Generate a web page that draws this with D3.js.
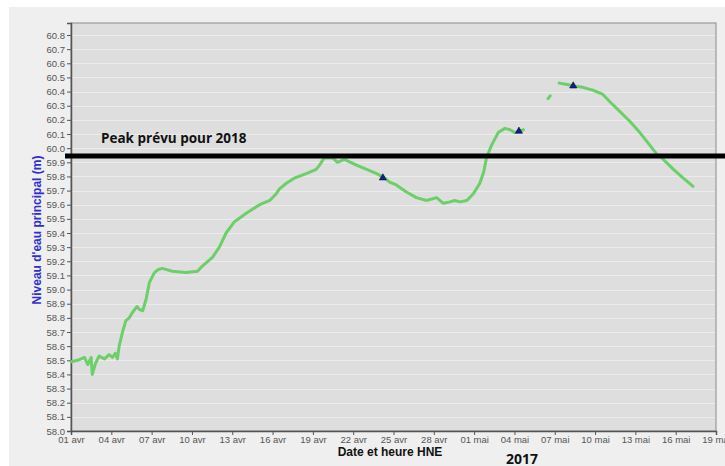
<!DOCTYPE html>
<html>
<head>
<meta charset="utf-8">
<script src="https://cdn.jsdelivr.net/npm/d3@7"></script>
<style>
  body { margin: 0; background: #fff; }
  svg { display: block; }
</style>
</head>
<body>
<div id="chart"></div>
<script>
// water level readings, 2017 (null = no data)
var times = [
  "04-01 00:00","04-01 12:00","04-02 00:00","04-02 06:00","04-02 12:00","04-02 14:00","04-02 20:00",
  "04-03 02:00","04-03 12:00","04-03 20:00","04-04 02:00","04-04 07:00","04-04 11:00","04-04 14:00",
  "04-04 20:00","04-05 02:00","04-05 08:00","04-05 14:00","04-05 22:00","04-06 02:00","04-06 08:00",
  "04-06 14:00","04-06 20:00","04-07 05:00","04-07 11:00","04-07 19:00","04-08 13:00","04-09 13:00",
  "04-10 10:00","04-10 17:00","04-11 13:00","04-12 01:00","04-12 13:00","04-13 04:00","04-14 01:00",
  "04-15 01:00","04-15 19:00","04-16 07:00","04-16 12:00","04-17 00:00","04-17 16:00","04-18 12:00",
  "04-19 06:00","04-19 12:00","04-19 20:00","04-20 12:00","04-20 20:00","04-21 08:00","04-22 06:00",
  "04-23 00:00","04-23 18:00","04-24 08:00","04-24 17:00","04-25 05:00","04-25 23:00","04-26 17:00",
  "04-27 11:00","04-28 05:00","04-28 17:00","04-29 05:00","04-29 13:00","04-29 23:00","04-30 11:00",
  "04-30 23:00","05-01 10:00","05-01 17:00","05-01 22:00","05-02 07:00","05-02 19:00","05-03 07:00",
  "05-03 16:00","05-04 01:00","05-04 08:00","05-04 16:00",
  "05-05 12:00",
  "05-06 12:00","05-06 16:00",
  "05-07 00:00",
  "05-07 08:00","05-07 22:00","05-08 10:00","05-09 02:00","05-09 20:00","05-10 14:00","05-11 02:00",
  "05-11 20:00","05-12 14:00","05-13 08:00","05-14 02:00","05-14 14:00","05-15 02:00","05-15 20:00",
  "05-16 13:00","05-17 07:00"
];
var levels = [
  58.49,58.50,58.52,58.47,58.52,58.40,58.48,
  58.53,58.51,58.54,58.52,58.55,58.51,58.60,
  58.70,58.78,58.80,58.84,58.88,58.86,58.85,
  58.93,59.05,59.12,59.14,59.15,59.13,59.12,
  59.13,59.16,59.23,59.30,59.40,59.48,59.54,
  59.60,59.63,59.68,59.71,59.75,59.79,59.82,
  59.85,59.88,59.93,59.93,59.90,59.92,59.88,
  59.85,59.82,59.79,59.76,59.74,59.69,59.65,
  59.63,59.65,59.61,59.62,59.63,59.62,59.63,
  59.68,59.75,59.83,59.93,60.02,60.11,60.14,
  60.13,60.11,60.12,60.13,
  null,
  60.35,60.37,
  null,
  60.46,60.45,60.44,60.43,60.41,60.38,60.33,
  60.26,60.19,60.11,60.02,59.96,59.92,59.85,
  59.79,59.73
];

// flagged readings (triangles)
var flagTimes = ["04-24 05:00", "05-04 08:00", "05-08 09:00"];
var flagLevels = [59.79, 60.12, 60.44];

var peakLevel = 59.945;
var peakLabel = "Peak prévu pour 2018";
var monthNames = ["janv","févr","mars","avr","mai","juin"];
var yTicks = d3.range(58.0, 60.81, 0.1).map(function(v) { return Math.round(v * 10) / 10; });

var width = 725, height = 466;
var margin = {top: 23, right: 9, bottom: 35, left: 71};
var parse = d3.timeParse("%Y-%m-%d %H:%M");

var svg = d3.select("#chart").append("svg")
    .attr("width", width)
    .attr("height", height);

// outer panel
svg.append("rect")
    .attr("x", 9).attr("y", 7)
    .attr("width", width - 9).attr("height", height - 7)
    .attr("fill", "#efefef");

var x = d3.scaleTime()
    .domain([parse("2017-04-01 00:00"), parse("2017-05-19 00:00")])
    .range([margin.left, width - margin.right]);

var y = d3.scaleLinear()
    .domain([58.0, 60.885])
    .range([height - margin.bottom, margin.top]);

// plot background
svg.append("rect")
    .attr("x", x.range()[0]).attr("y", y.range()[1])
    .attr("width", x.range()[1] - x.range()[0])
    .attr("height", y.range()[0] - y.range()[1])
    .attr("fill", "#dedede")
    .attr("stroke", "#8a8a8a")
    .attr("stroke-width", 1);

// grid
svg.append("g")
    .selectAll("line")
    .data(yTicks.slice(1))
    .enter().append("line")
      .attr("x1", x.range()[0] + 1)
      .attr("x2", x.range()[1] - 1)
      .attr("y1", function(d) { return Math.round(y(d)) + 0.5; })
      .attr("y2", function(d) { return Math.round(y(d)) + 0.5; })
      .attr("stroke", "#ececec")
      .attr("stroke-width", 1);

// x axis
var xTicks = d3.timeDay.range(parse("2017-04-01 00:00"), parse("2017-05-19 01:00"), 1)
    .filter(function(d, i) { return i % 3 === 0; });
svg.append("g")
    .attr("transform", "translate(0," + y.range()[0] + ")")
    .call(d3.axisBottom(x)
        .tickValues(xTicks)
        .tickSize(4)
        .tickPadding(1)
        .tickFormat(function(d) { return d3.timeFormat("%d")(d) + " " + monthNames[d.getMonth()]; }))
    .call(function(g) {
        g.select(".domain").attr("stroke", "#555").attr("stroke-width", 1.5);
        g.selectAll(".tick line").attr("stroke", "#555");
        g.selectAll(".tick text")
            .attr("fill", "#555")
            .attr("font-family", "Arial, 'Liberation Sans', sans-serif")
            .attr("font-size", "9.5px");
    });

// y axis
svg.append("g")
    .attr("transform", "translate(" + x.range()[0] + ",0)")
    .call(d3.axisLeft(y)
        .tickValues(yTicks)
        .tickSize(4)
        .tickFormat(d3.format(".1f")))
    .call(function(g) {
        g.select(".domain").attr("stroke", "#555").attr("stroke-width", 1.5);
        g.selectAll(".tick line").attr("stroke", "#555");
        g.selectAll(".tick text")
            .attr("fill", "#555")
            .attr("font-family", "Arial, 'Liberation Sans', sans-serif")
            .attr("font-size", "9.5px")
            .attr("x", -6);
    });

// data line
var data = times.map(function(t, i) { return {t: parse("2017-" + t), v: levels[i]}; });
svg.append("path")
    .datum(data)
    .attr("fill", "none")
    .attr("stroke", "#6ccf69")
    .attr("stroke-width", 3)
    .attr("stroke-linejoin", "round")
    .attr("stroke-linecap", "round")
    .attr("d", d3.line()
        .defined(function(d) { return d.v !== null; })
        .x(function(d) { return x(d.t); })
        .y(function(d) { return y(d.v); }));

// flags
svg.append("g")
    .selectAll("path")
    .data(flagTimes.map(function(t, i) { return {t: parse("2017-" + t), v: flagLevels[i]}; }))
    .enter().append("path")
      .attr("transform", function(d) { return "translate(" + x(d.t) + "," + y(d.v) + ")"; })
      .attr("d", d3.symbol().type(d3.symbolTriangle).size(22))
      .attr("fill", "#10208a")
      .attr("stroke", "#0a0a40")
      .attr("stroke-width", 0.6);

// peak line
svg.append("line")
    .attr("x1", x.range()[0] - 6)
    .attr("x2", width)
    .attr("y1", y(peakLevel))
    .attr("y2", y(peakLevel))
    .attr("stroke", "#000")
    .attr("stroke-width", 5);

svg.append("text")
    .attr("x", 101)
    .attr("y", y(peakLevel) - 13)
    .attr("font-family", "'Open Sans', Lato, sans-serif")
    .attr("font-weight", "bold")
    .attr("font-size", "13.5px")
    .attr("fill", "#111")
    .text(peakLabel);

// axis titles
svg.append("text")
    .attr("x", 390)
    .attr("y", 456)
    .attr("text-anchor", "middle")
    .attr("font-family", "Arial, 'Liberation Sans', sans-serif")
    .attr("font-weight", "bold")
    .attr("font-size", "12px")
    .attr("fill", "#111")
    .text("Date et heure HNE");

svg.append("text")
    .attr("transform", "translate(41,230) rotate(-90)")
    .attr("text-anchor", "middle")
    .attr("font-family", "Arial, 'Liberation Sans', sans-serif")
    .attr("font-weight", "bold")
    .attr("font-size", "12px")
    .attr("fill", "#2f2fd0")
    .text("Niveau d'eau principal (m)");

svg.append("text")
    .attr("x", 522)
    .attr("y", 464)
    .attr("text-anchor", "middle")
    .attr("font-family", "'Open Sans', Lato, sans-serif")
    .attr("font-weight", "bold")
    .attr("font-size", "14px")
    .attr("fill", "#111")
    .text("2017");
</script>
</body>
</html>
